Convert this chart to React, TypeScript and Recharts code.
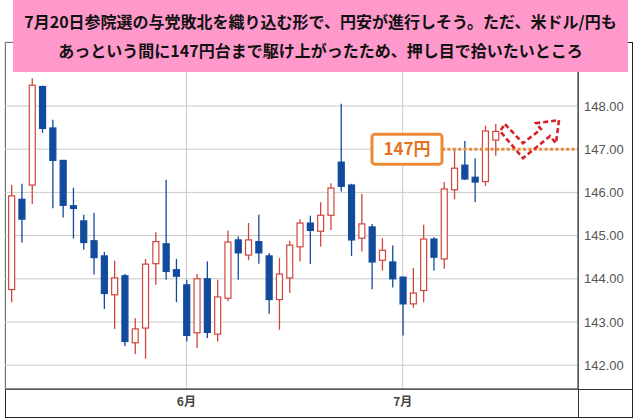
import React from "react"
import { ComposedChart, Bar, XAxis, YAxis, CartesianGrid, ReferenceLine } from "recharts"

// 米ドル/円 日足 (2025/5/8 - 7/14)
const dates = [
  "5/8", "5/9", "5/12", "5/13", "5/14", "5/15", "5/16", "5/19", "5/20", "5/21", "5/22", "5/23",
  "5/26", "5/27", "5/28", "5/29", "5/30",
  "6/2", "6/3", "6/4", "6/5", "6/6", "6/9", "6/10", "6/11", "6/12", "6/13", "6/16", "6/17",
  "6/18", "6/19", "6/20", "6/23", "6/24", "6/25", "6/26", "6/27", "6/30",
  "7/1", "7/2", "7/3", "7/4", "7/7", "7/8", "7/9", "7/10", "7/11", "7/14",
]
const opens = [
  143.75, 145.84, 146.17, 148.45, 147.49, 146.74, 145.69, 145.34, 144.88, 144.53, 143.63, 144.07,
  142.52, 142.86, 144.35, 144.81, 144.21,
  143.86, 142.75, 144.0, 142.72, 143.55, 144.9, 144.55, 144.86, 144.53, 143.52, 144.02, 144.74,
  145.29, 145.1, 145.47, 146.7, 146.17, 144.94, 145.2, 144.43, 144.39,
  144.04, 143.42, 143.73, 144.92, 144.46, 146.06, 146.63, 146.35, 146.25, 147.21,
]
const highs = [
  146.17, 146.2, 148.64, 148.47, 147.68, 146.75, 146.11, 145.48, 145.53, 144.62, 144.42, 144.11,
  143.09, 144.46, 145.08, 146.29, 144.46,
  143.98, 144.11, 144.4, 143.98, 145.12, 144.98, 145.29, 145.48, 144.6, 144.48, 144.88, 145.38,
  145.46, 145.77, 146.21, 148.05, 146.2, 145.97, 145.27, 144.94, 144.77,
  144.04, 144.25, 145.25, 144.96, 146.24, 147.02, 147.19, 146.79, 147.54, 147.58,
]
const lows = [
  143.46, 144.84, 145.73, 147.38, 145.63, 145.42, 144.93, 144.67, 144.1, 143.3, 142.84, 142.44,
  142.26, 142.15, 143.86, 143.98, 143.46,
  142.55, 142.4, 142.63, 142.55, 143.48, 143.98, 144.43, 144.35, 143.19, 142.82, 143.67, 144.4,
  144.34, 144.75, 145.13, 146.02, 144.53, 144.63, 143.76, 144.19, 143.8,
  142.69, 143.33, 143.46, 144.19, 144.23, 145.84, 146.29, 145.77, 146.15, 146.85,
]
const closes = [
  145.92, 145.38, 148.48, 147.48, 146.74, 145.7, 145.63, 144.84, 144.49, 143.66, 144.02, 142.55,
  142.84, 144.34, 144.86, 144.17, 144.06,
  142.69, 144.0, 142.76, 143.58, 144.85, 144.6, 144.9, 144.6, 143.52, 144.11, 144.78, 145.29,
  145.12, 145.47, 146.1, 146.14, 144.9, 145.27, 144.39, 144.66, 144.0,
  143.42, 143.67, 144.92, 144.5, 146.08, 146.56, 146.31, 146.24, 147.42, 147.41,
]

const monthTicks = ["6/2", "7/1"]
const priceTicks = [142, 143, 144, 145, 146, 147, 148]
const targetPrice = 147

const UP = "#D0453C"
const DOWN = "#114B9C"
const ORANGE = "#EE8A35"

const data = dates.map((date, i) => ({
  date,
  open: opens[i],
  high: highs[i],
  low: lows[i],
  close: closes[i],
  range: [lows[i], highs[i]],
}))

document.body.style.margin = "0"

const Candle = (props: any) => {
  const { x, y, width, height, payload } = props
  const { open, close, high, low } = payload
  const top = height >= 0 ? y : y + height
  const h = Math.abs(height)
  const up = close >= open
  const color = up ? UP : DOWN
  const toY = (v: number) => top + ((high - v) / (high - low)) * h
  const cx = x + width / 2
  const bTop = toY(Math.max(open, close))
  const bBot = toY(Math.min(open, close))
  return (
    <g>
      <line x1={cx} x2={cx} y1={top} y2={top + h} stroke={color} strokeWidth={1.3} />
      <rect
        x={x + 0.5}
        y={bTop}
        width={width - 1}
        height={Math.max(bBot - bTop, 1.5)}
        fill={up ? "#fff" : color}
        stroke={color}
        strokeWidth={1.2}
      />
    </g>
  )
}

// 147円の点線、ラベル、上向き矢印
const TargetLabel = (props: any) => {
  const vb = props.viewBox || {}
  const right = (vb.x ?? 0) + (vb.width ?? 0)
  const y1 = vb.y ?? 0
  const start = right - 136
  const arrow = [
    [-73, -25], [-55, -6], [-37, -20], [-42, -26], [-19, -29],
    [-22, -6], [-28, -13], [-55, 9], [-78, -18],
  ]
    .map(([dx, dy]) => `${right + dx},${y1 + dy}`)
    .join(" ")
  return (
    <g>
      <line x1={start} x2={right} y1={y1} y2={y1} stroke={ORANGE} strokeWidth={3} strokeDasharray="3 2.4" />
      <rect x={start - 70} y={y1 - 15} width={70} height={30} rx={3} fill="#fff" stroke={ORANGE} strokeWidth={3} />
      <text
        x={start - 35}
        y={y1 + 1}
        textAnchor="middle"
        dominantBaseline="middle"
        fontFamily="'Noto Sans CJK JP', sans-serif"
        fontWeight="bold"
        fontSize={17}
        fill="#E5721F"
      >
        147円
      </text>
      <polygon points={arrow} fill="none" stroke="#D8202A" strokeWidth={2.6} strokeDasharray="5 3" strokeLinejoin="miter" />
    </g>
  )
}

export default function App() {
  return (
    <div style={{ position: "relative", width: 640, height: 419, background: "#fff", overflow: "hidden" }}>
      <div style={{ position: "absolute", left: 5, top: 42, width: 626, height: 374, border: "1.5px solid #222" }} />
      <div style={{ position: "absolute", left: 578, top: 42, width: 1, height: 376, background: "#333" }} />
      <div style={{ position: "absolute", left: 5, top: 389, width: 627, height: 1, background: "#333" }} />
      <div style={{ position: "absolute", left: 0, top: 0 }}>
        <ComposedChart width={640} height={419} data={data} margin={{ top: 42, right: 8, bottom: 2, left: 5 }}>
          <CartesianGrid stroke="#c9c9c9" strokeWidth={1} />
          <XAxis
            dataKey="date"
            ticks={monthTicks}
            interval={0}
            tickFormatter={(d: string) => `${Number(d.split("/")[0])}月`}
            padding={{ left: 1.15, right: 77.45 }}
            height={28}
            axisLine={{ stroke: "#333" }}
            tickLine={false}
            tick={{ fontSize: 12, fontWeight: "bold", fill: "#444", fontFamily: "'Noto Sans CJK JP', sans-serif" }}
          />
          <YAxis
            orientation="right"
            width={54}
            domain={[141.45, 149.48]}
            allowDataOverflow
            ticks={priceTicks}
            tickFormatter={(v: number) => v.toFixed(2)}
            axisLine={{ stroke: "#333" }}
            tickLine={false}
            tickMargin={0}
            tick={{ fontSize: 13, fill: "#555", fontFamily: "'Liberation Sans', Arial, sans-serif" }}
          />
          <Bar dataKey="range" barSize={7} shape={<Candle />} isAnimationActive={false} />
          <ReferenceLine y={targetPrice} stroke="none" label={<TargetLabel />} />
        </ComposedChart>
      </div>
      <div
        style={{
          position: "absolute",
          left: 13,
          top: 0,
          width: 615,
          height: 72,
          background: "#FF99CC",
          fontFamily: "'Noto Sans CJK JP', sans-serif",
          fontWeight: "bold",
          fontSize: 16,
          color: "#111",
          textAlign: "center",
          lineHeight: "29px",
          paddingTop: 7,
          boxSizing: "border-box",
        }}
      >
        <div>7月20日参院選の与党敗北を織り込む形で、円安が進行しそう。ただ、米ドル/円も</div>
        <div>あっという間に147円台まで駆け上がったため、押し目で拾いたいところ</div>
      </div>
    </div>
  )
}
